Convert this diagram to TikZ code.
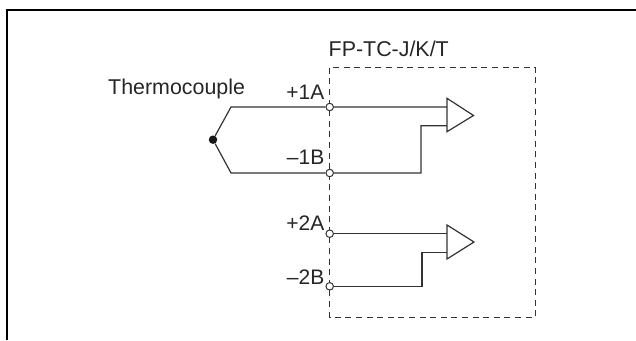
\documentclass[tikz,border=0pt]{standalone}
\usepackage{fontspec}
\setmainfont[Kerning=Off]{Liberation Sans}
\definecolor{inkc}{gray}{0.2}
\tikzset{
  wire/.style={draw=inkc,line width=1.2pt},
  boxline/.style={draw=inkc,line width=1pt,dash pattern=on 6pt off 4.6pt},
  pin/.style={circle,draw=inkc,fill=white,line width=1pt,inner sep=0pt,minimum size=7.5pt},
  junction/.style={circle,fill=black!90,inner sep=0pt,minimum size=8.5pt},
  amp/.style={draw=inkc,fill=white,line width=1.2pt,line join=miter},
  lbl/.style={inner sep=0pt,text=black!85,font=\fontsize{21}{21}\selectfont,anchor=base east},
  lbll/.style={inner sep=0pt,text=black!85,font=\fontsize{21.4}{21.4}\selectfont,anchor=base west}
}
\begin{document}
\begin{tikzpicture}[x=1pt,y=-1pt]
\useasboundingbox (0,0) rectangle (636,340);
\draw[black,line width=2pt] (7,340) -- (7,10) -- (636,10);
\draw[boxline] (329.7,67.7) rectangle (535.5,317);
\node[lbll] (tc) at (108,94) {Thermocouple};
\node[lbll] (fp) at (328.5,56) {FP-TC-J/K/T};
\node[junction] (j) at (213,139.7) {};
\coordinate (c1) at (231,107);
\coordinate (c2) at (231,173);
\node[pin] (p1) at (329.7,107) {};
\node[pin] (p2) at (329.7,173) {};
\node[pin] (p3) at (329.7,233.7) {};
\node[pin] (p4) at (329.7,286.3) {};
\node[lbl] at (324.5,99.5) {+1A};
\node[lbl] at (324.5,164.7) {–1B};
\node[lbl] at (324.5,230.7) {+2A};
\node[lbl] at (324.5,284) {–2B};
\coordinate (a1) at (447,107);
\coordinate (b1) at (447,125.7);
\coordinate (a2) at (447,233.7);
\coordinate (b2) at (447,252.3);
\draw[wire] (j) -- (c1) -- (p1) -- (a1);
\draw[wire] (j) -- (c2) -- (p2) -| (421,125.7) -- (b1);
\draw[wire] (p3) -- (a2);
\draw[wire] (p4) -| (422,252.3) -- (b2);
\draw[amp] (447,98.3) -- (473.5,115.5) -- (447,131.7) -- cycle;
\draw[amp] (447,225) -- (474,242) -- (447,259) -- cycle;
\end{tikzpicture}
\end{document}
